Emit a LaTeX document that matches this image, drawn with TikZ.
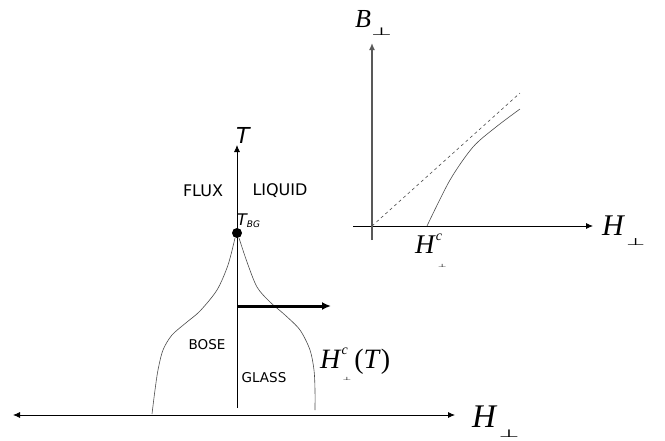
\documentclass[tikz,border=0pt]{standalone}
\usepackage{fontspec}
\usepackage{graphicx}
\setmainfont{Liberation Serif}
\setsansfont{DejaVu Sans}
\newfontfamily\perpfont{DejaVu Sans}
\usetikzlibrary{arrows.meta}
% flattened perp sign, lowered below the baseline
\newcommand{\lowperp}[2]{\raisebox{#2}{\scalebox{1}[0.45]{\fontsize{#1}{#1}\perpfont ⊥}}}
\tikzset{
  axis/.style={line width=0.8pt, >={Latex[length=7pt,width=6pt]}},
  curve/.style={gray!60!black, line width=0.6pt},
  phase/.style={font=\sffamily\fontsize{16}{16}\selectfont},
  glass/.style={font=\sffamily\fontsize{13.5}{14}\selectfont},
  sym/.style={inner sep=0pt, anchor=base west},
}
\begin{document}
\begin{tikzpicture}[x=1pt,y=-1pt]
\useasboundingbox (0,0) rectangle (665,440);

% phase diagram
\coordinate (Hleft) at (13,415);
\coordinate (Hright) at (455,415);
\coordinate (Tbot) at (237,408);
\coordinate (Ttop) at (237,145);
\draw[axis,<->] (Hleft) -- (Hright);
\draw[axis,->] (Tbot) -- (Ttop);
\node[sym, font=\sffamily\itshape\fontsize{22}{22}\selectfont] (Tlab) at (236,143) {T};
\node[sym, font=\fontsize{33}{33}\selectfont] (Hlab) at (472,427) {\textit{H}\hspace{1pt}\lowperp{24}{-10pt}};

\node[phase] (flux) at (203,191) {FLUX};
\node[phase] (liquid) at (280,191) {LIQUID};
\node[glass] (bose) at (207,345) {BOSE};
\node[glass] (glasslab) at (264,378) {GLASS};

% Bose glass boundary
\draw[curve] plot[smooth] coordinates {(235,238) (228,265) (217,290) (200,311) (187,322) (172,335) (163,350) (158,370) (155,390) (152,414)};
\draw[curve] plot[smooth] coordinates {(239,238) (247,262) (257,287) (270,302) (285,315) (300,330) (310,350) (314,370) (315,390) (315,410)};
\node[circle, fill, inner sep=0pt, minimum size=10pt] (bg) at (237,233) {};
\node[sym, font=\sffamily\itshape\fontsize{16}{16}\selectfont] (bglab) at (237,225) {T\fontsize{9}{9}\selectfont\raisebox{-2pt}{BG}};
\node[sym, font=\fontsize{28}{28}\selectfont] (hct) at (320,368)
  {\textit{H}\rlap{\raisebox{14pt}{\fontsize{14}{14}\selectfont\textit{c}}}\hspace{1pt}\lowperp{10}{-12pt}\hspace{3pt}(\textit{T})};

\coordinate (sweep) at (237,306);
\coordinate (sweepend) at (331,306);
\draw[line width=3pt, -{Latex[length=9pt,width=8pt]}] (sweep) -- (sweepend);

% inset: B versus H
\coordinate (o) at (372,226);
\coordinate (Bbot) at (372,240);
\coordinate (Btop) at (372,43);
\coordinate (Hl) at (353,226);
\coordinate (Hr) at (593,226);
\draw[axis,->] (Hl) -- (Hr);
\draw[axis,->, gray!70!black, line width=1.6pt] (Bbot) -- (Btop);
\node[sym, font=\fontsize{26}{26}\selectfont] (Blab) at (355,27) {\textit{B}\hspace{0pt}\lowperp{24}{-8pt}};
\node[sym, font=\fontsize{30}{30}\selectfont] (Hinlab) at (602,235) {\textit{H}\hspace{1pt}\lowperp{22}{-10pt}};
\node[sym, font=\fontsize{27}{27}\selectfont] (Hc) at (415,253)
  {\textit{H}\rlap{\raisebox{13pt}{\fontsize{14}{14}\selectfont\textit{c}}}\hspace{2pt}\lowperp{10}{-14pt}};

\draw[curve, dashed] (o) -- (520,93);
\draw[curve] plot[smooth] coordinates {(427,226) (450,180) (473,147) (496,127) (520,109)};
\end{tikzpicture}
\end{document}
